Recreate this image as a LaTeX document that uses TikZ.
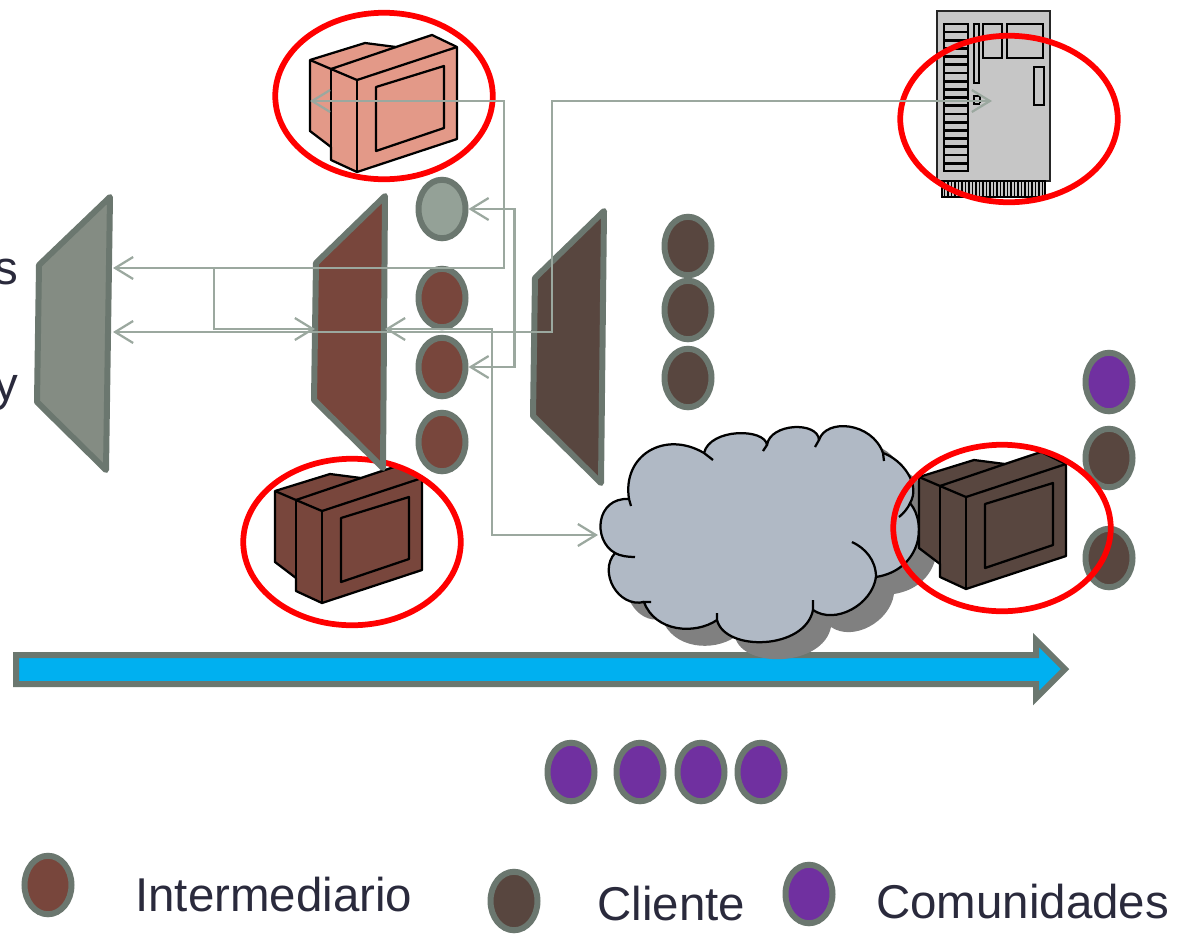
\documentclass[tikz,border=0pt]{standalone}
\usepackage{fontspec}
\setmainfont{Liberation Sans}
\usetikzlibrary{shapes.geometric,arrows.meta}

\definecolor{edgegray}{HTML}{6B776F}
\definecolor{linkgray}{HTML}{9BA89F}
\definecolor{sagegray}{HTML}{94A197}
\definecolor{wallgray}{HTML}{848C83}
\definecolor{brownred}{HTML}{78463C}
\definecolor{darkbrown}{HTML}{58463F}
\definecolor{salmon}{HTML}{E39988}
\definecolor{violet}{HTML}{7030A0}
\definecolor{cloudblue}{HTML}{B0B9C5}
\definecolor{barblue}{HTML}{00B0F0}
\definecolor{inkdark}{HTML}{2A2A3C}

% one monitor, #1 #2 = shift, #3 = fill
\newcommand{\monitor}[3]{
	\begin{scope}[shift={(#1,#2)}, draw=black, line width=.45mm, line join=round]
		\filldraw[fill=#3] (310,60) -- (365,43) -- (396,47) -- (432,35) -- (457,47) -- (457,139) -- (357,172) -- (331,160) -- (331,147) -- (310,131) -- cycle;
		\draw (310,60) -- (331,69) -- (357,80) -- (457,47);
		\draw (331,69) -- (396,47);
		\draw (331,69) -- (331,160);
		\draw (357,80) -- (357,172);
		\draw (376,87) -- (444,66) -- (444,128) -- (376,151) -- cycle;
	\end{scope}
}

\newcommand{\cloudline}{
	(629,499) .. controls (622,455) and (665,430) .. (704,453)
	.. controls (710,428) and (765,428) .. (767,445)
	.. controls (770,423) and (818,421) .. (819,440)
	.. controls (826,418) and (872,422) .. (883,453)
	.. controls (903,460) and (921,485) .. (910,503)
	.. controls (928,525) and (920,570) .. (876,577)
	.. controls (872,605) and (835,625) .. (813,610)
	.. controls (805,650) and (725,652) .. (717,620)
	.. controls (695,635) and (655,632) .. (644,602)
	.. controls (618,608) and (598,572) .. (615,553)
	.. controls (592,540) and (596,497) .. (629,499) -- cycle
}

\begin{document}
\begin{tikzpicture}[x=.2mm, y=-.2mm, node distance={13.8mm},
	main/.style = {draw=edgegray, ellipse, line width=1.2mm, inner sep=0pt, minimum width=9.4mm, minimum height=11.7mm},
	wall/.style = {draw=edgegray, line width=1.2mm, line join=round},
	ring/.style = {draw=red, line width=1.15mm, ellipse, inner sep=0pt, minimum width=43.5mm, minimum height=33.3mm},
	link/.style = {draw=linkgray, line width=.45mm, {Straight Barb[length=3.6mm,width=4.4mm]}-{Straight Barb[length=3.6mm,width=4.4mm]}},
	linkend/.style = {draw=linkgray, line width=.45mm, -{Straight Barb[length=3.6mm,width=4.4mm]}},
	part/.style = {draw=black, line width=.55mm},
	edge line/.style = {draw=black, line width=.45mm},
	word/.style = {text=inkdark, inner sep=0pt, font=\fontsize{27}{32}\selectfont}]
	\useasboundingbox (0,0) rectangle (1186,933);

	\node[word, anchor=base east] (w1) at (19,284) {s};
	\node[word, anchor=base east] (w2) at (19,400) {y};

	% long arrow under the cloud
	\filldraw[fill=barblue, draw=edgegray, line width=1.2mm, miter limit=4] (16,655) -- (1036,655) -- (1036,640) -- (1065,669) -- (1036,698) -- (1036,684) -- (16,684) -- cycle;

	% cloud
	\fill[gray, shift={(18,17)}] \cloudline;
	\fill[cloudblue] \cloudline;
	\draw[edge line] (629,499) .. controls (622,455) and (665,430) .. (704,453) -- (713,460);
	\draw[edge line] (704,453) .. controls (710,428) and (765,428) .. (767,445) -- (763,451);
	\draw[edge line] (767,445) .. controls (770,423) and (818,421) .. (819,440) -- (815,447);
	\draw[edge line] (819,440) .. controls (826,418) and (872,422) .. (883,453) -- (884,461);
	\draw[edge line] (883,453) .. controls (903,460) and (921,485) .. (910,503) .. controls (908,508) and (904,513) .. (899,517);
	\draw[edge line] (910,503) .. controls (928,525) and (920,570) .. (876,577) .. controls (876,560) and (865,548) .. (852,542);
	\draw[edge line] (876,577) .. controls (872,605) and (835,625) .. (813,610) -- (813,600);
	\draw[edge line] (813,610) .. controls (805,650) and (725,652) .. (717,620) -- (717,613);
	\draw[edge line] (717,620) .. controls (695,635) and (655,632) .. (644,602) -- (651,602);
	\draw[edge line] (644,602) .. controls (618,608) and (598,572) .. (615,553) .. controls (620,556) and (628,557) .. (635,557);
	\draw[edge line] (615,553) .. controls (592,540) and (596,497) .. (629,499) -- (631,506);

	% server
	\filldraw[fill=lightgray!90!white, draw=black!85, line width=.5mm] (937,11) rectangle (1050,181);
	\filldraw[fill=lightgray!90!white, draw=black, line width=.4mm] (942,181) rectangle (1045,197);
	\foreach \x in {944.5,948,...,1044}
		\draw[black, line width=.35mm] (\x,181) -- (\x,197);
	\draw[part] (944,24) rectangle (968,171);
	\foreach \y in {32,40.2,...,165}
		\draw[part] (944,\y) -- (968,\y);
	\draw[part] (974,24) rectangle (979,83);
	\draw[part] (983,24) rectangle (1002,58);
	\draw[part] (1007,24) rectangle (1043,58);
	\draw[part] (1034,67) rectangle (1044,105);
	\draw[edge line] (974,103) -- (974,96) -- (980,96) -- (980,103);
	\draw[edge line] (973,104) -- (980,104);

	% monitors
	\monitor{0}{0}{salmon}
	\monitor{-35}{431}{brownred}
	\monitor{609}{417}{darkbrown}

	% circles
	\node[main, fill=sagegray] (p1) at (442,209) {};
	\node[main, fill=brownred] (p2) at (442,298) {};
	\node[main, fill=brownred] (p3) [below of=p2] {};
	\node[main, fill=brownred] (p4) at (442,442) {};
	\node[main, fill=darkbrown] (d1) at (688,246) {};
	\node[main, fill=darkbrown] (d2) at (688,310) {};
	\node[main, fill=darkbrown] (d3) at (688,378) {};
	\node[main, fill=violet] (e1) at (1109,382) {};
	\node[main, fill=darkbrown] (e2) at (1109,458) {};
	\node[main, fill=darkbrown] (e3) at (1109,558) {};
	\node[main, fill=violet] (c1) at (571,772) {};
	\node[main, fill=violet] (c2) at (640,772) {};
	\node[main, fill=violet] (c3) at (701,772) {};
	\node[main, fill=violet] (c4) at (761,772) {};

	% red rings
	\node[ring] (r1) at (384,96) {};
	\node[ring] (r2) at (352,542) {};
	\node[ring] (r3) at (1009,119) {};
	\node[ring] (r4) at (1002,528) {};

	% walls
	\filldraw[wall, fill=wallgray] (110,197) -- (39,265) -- (37,402) -- (106,470) -- cycle;
	\filldraw[wall, fill=brownred] (385,196) -- (316,263) -- (314,400) -- (383,468) -- cycle;
	\filldraw[wall, fill=darkbrown] (604,211) -- (535,278) -- (533,416) -- (601,483) -- cycle;

	% free ends of the links
	\coordinate (t1) at (310,101);
	\coordinate (l1) at (113,268);
	\coordinate (l2) at (113,332);
	\coordinate (s1) at (992,101);
	\coordinate (j1) at (214,268);
	\coordinate (m1) at (315,329);
	\coordinate (m2) at (385,329);
	\coordinate (k1) at (598,535);

	\draw[link] (t1) -- ++(194,0) |- (l1);
	\draw[link] (s1) -- ++(-440,0) |- (l2);
	\draw[linkend] (j1) |- (m1);
	\draw[link] (p1.east) -- ++(46,0) |- (p3.east);
	\draw[link] (m2) -- ++(107,0) |- (k1);

	% legend
	\node[main, fill=brownred] (g1) at (48,885) {};
	\node[word, anchor=base west] (n1) at (135,911) {Intermediario};
	\node[main, fill=darkbrown] (g2) at (514,901) {};
	\node[word, anchor=base west] (n2) at (597,920) {Cliente};
	\node[main, fill=violet] (g3) at (809,894) {};
	\node[word, anchor=base west] (n3) at (876,918) {Comunidades};
\end{tikzpicture}
\end{document}
